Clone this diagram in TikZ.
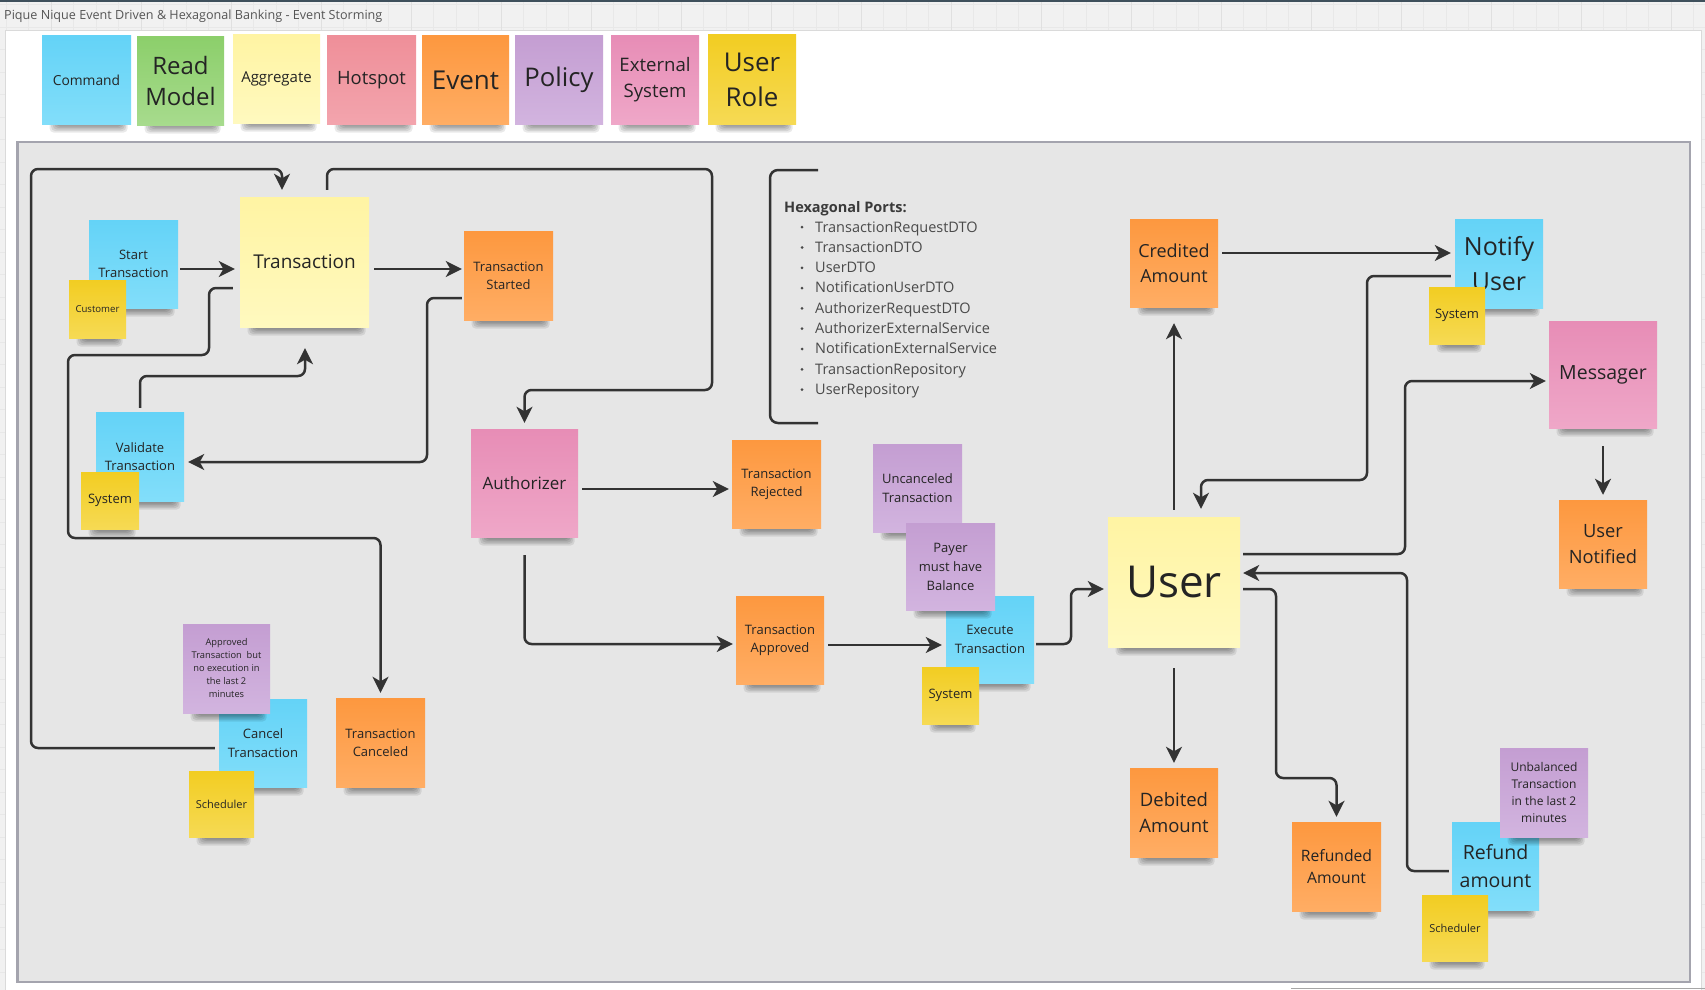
\documentclass[tikz,border=0pt]{standalone}
\usepackage{fontspec}
\setmainfont{Open Sans}
\usetikzlibrary{arrows.meta,calc}

\newcommand\fsz[2]{\fontsize{#1pt}{#2pt}\selectfont}

% board colours
\definecolor{ink}{HTML}{242424}
\definecolor{wire}{HTML}{333333}
\definecolor{canvasbg}{HTML}{F1F1F1}
\definecolor{gridminor}{HTML}{E8E8E8}
\definecolor{gridmajor}{HTML}{E0E0E0}
\definecolor{topbar}{HTML}{3F505C}
\definecolor{panelline}{HTML}{DADADA}
\definecolor{framefill}{HTML}{E6E6E6}
\definecolor{frameline}{HTML}{A4A4AE}
\definecolor{titlegray}{HTML}{555555}
\definecolor{portgray}{HTML}{4A4A4A}
% sticky note colours (top / bottom of the gradient)
\definecolor{cmdA}{HTML}{64D3F7}\definecolor{cmdB}{HTML}{82DEFA}
\definecolor{readA}{HTML}{8CCF6B}\definecolor{readB}{HTML}{A7DB8D}
\definecolor{aggA}{HTML}{FFF4A3}\definecolor{aggB}{HTML}{FFF9BF}
\definecolor{hotA}{HTML}{EF8F99}\definecolor{hotB}{HTML}{F3A4AD}
\definecolor{evA}{HTML}{FD983F}\definecolor{evB}{HTML}{FFAD64}
\definecolor{polA}{HTML}{C49ED2}\definecolor{polB}{HTML}{D2B4DF}
\definecolor{extA}{HTML}{E78DB6}\definecolor{extB}{HTML}{EFA7C8}
\definecolor{roleA}{HTML}{F2CD22}\definecolor{roleB}{HTML}{F6DA54}

\tikzset{
  sticky/.style={rectangle, inner sep=2pt, align=center, text=ink},
  note/.style 2 args={sticky, top color=#1, bottom color=#2},
  cmdnote/.style={note={cmdA}{cmdB}},
  readnote/.style={note={readA}{readB}},
  aggnote/.style={note={aggA}{aggB}},
  hotnote/.style={note={hotA}{hotB}},
  evnote/.style={note={evA}{evB}},
  polnote/.style={note={polA}{polB}},
  extnote/.style={note={extA}{extB}},
  rolenote/.style={note={roleA}{roleB}},
  sz/.style 2 args={minimum width=#1pt, minimum height=#2pt},
  shadowlayer/.style={fill=black, opacity=0.085, rounded corners=4pt},
  conn/.style={draw=wire, line width=2.5pt, rounded corners=7pt,
    -{Stealth[length=16pt, width=16pt, inset=4.5pt]}},
  plainwire/.style={draw=wire, line width=2.5pt, rounded corners=8pt},
  portitem/.style={anchor=base west, inner sep=0pt, text=portgray, font=\fsz{14.5}{18}},
}

% a sticky note with its soft shadow under the lower edge
% #1 style, #2 name, #3 x, #4 y (centre), #5 width, #6 height, #7 text
\newcommand\stickynote[7]{%
  \foreach \k in {0,...,4} {
    \fill[shadowlayer] ({#3-#5/2+14-\k*1.6},{#4+#6/2-4})
      rectangle ({#3+#5/2-9+\k*1.4},{#4+#6/2+2.5+\k*1.5});
  }
  \node[#1, sz={#5}{#6}] (#2) at (#3,#4) {#7};
}

\begin{document}
\begin{tikzpicture}[x=1pt, y=-1pt]
\useasboundingbox (0,0) rectangle (1705,990);

% canvas with its grid
\fill[canvasbg] (0,0) rectangle (1705,990);
\foreach \gx in {6,28.5,...,1705} \draw[gridminor, line width=0.8pt] (\gx,0) -- (\gx,990);
\foreach \gy in {4.5,27,...,990} \draw[gridminor, line width=0.8pt] (0,\gy) -- (1705,\gy);
\foreach \gx in {51,141,...,1705} \draw[gridmajor, line width=1pt] (\gx,0) -- (\gx,990);
\fill[topbar] (0,0) rectangle (1705,2.2);

% white board panel
\filldraw[fill=white, draw=panelline, line width=0.8pt] (5,30) rectangle (1701,1000);
\draw[black!35, line width=1.2pt] (1291,988.5) -- (1705,988.5);

% board title
\node[anchor=base west, inner sep=0pt, text=titlegray, font=\fsz{12.6}{15}] (title) at (4,20)
  {Pique Nique Event Driven \& Hexagonal Banking - Event Storming};

% legend
\stickynote{cmdnote, font=\fsz{13.8}{19}}{lgCmd}{86.5}{80}{89}{88}{Command}
\stickynote{readnote, font=\fsz{24}{31}}{lgRead}{180.5}{81}{87}{88}{Read\\Model}
\stickynote{aggnote, font=\fsz{15}{21}}{lgAgg}{276.5}{79}{87}{88}{Aggregate}
\stickynote{hotnote, font=\fsz{18.4}{25}}{lgHot}{371.5}{80}{89}{88}{Hotspot}
\stickynote{evnote, font=\fsz{26}{34}}{lgEv}{465.5}{80}{87}{88}{Event}
\stickynote{polnote, font=\fsz{25.7}{34}}{lgPol}{559}{80}{88}{88}{Policy}
\stickynote{extnote, font=\fsz{18.6}{26}}{lgExt}{655}{80}{88}{88}{External\\System}
\stickynote{rolenote, font=\fsz{25.9}{35}}{lgRole}{752}{79.5}{88}{89}{User\\Role}

% event storming frame
\filldraw[fill=framefill, draw=frameline, line width=2.2pt] (17.5,142) rectangle (1690,982);

% transaction flow
\stickynote{aggnote, font=\fsz{19}{26}}{txn}{304.5}{262}{129}{130}{Transaction}
\stickynote{cmdnote, font=\fsz{13}{18.3}}{startTx}{133.5}{264}{89}{88}{Start\\Transaction}
\stickynote{rolenote, font=\fsz{9.6}{13}}{customer}{97.5}{309}{57}{58}{Customer}
\stickynote{evnote, font=\fsz{13}{18.3}}{txStarted}{508.5}{275.5}{89}{89}{Transaction\\Started}
\stickynote{cmdnote, font=\fsz{13}{18.3}}{validate}{140}{456.5}{88}{89}{Validate\\Transaction}
\stickynote{rolenote, font=\fsz{13}{18}}{sysValidate}{110}{500.5}{58}{57}{System}
\stickynote{extnote, font=\fsz{17}{23}}{auth}{524.5}{483}{107}{108}{Authorizer}
\stickynote{evnote, font=\fsz{13}{18.3}}{txRejected}{776.5}{484}{89}{88}{Transaction\\Rejected}
\stickynote{evnote, font=\fsz{13}{18.3}}{txApproved}{780}{640}{88}{88}{Transaction\\Approved}
\stickynote{cmdnote, font=\fsz{13}{18.3}}{execute}{990}{639.5}{88}{87}{Execute\\Transaction}
\stickynote{polnote, font=\fsz{13}{18.3}}{uncanceled}{917.5}{488}{89}{88}{Uncanceled\\Transaction}
\stickynote{polnote, font=\fsz{13}{19}}{payer}{950.5}{566.5}{89}{87}{Payer\\must have\\Balance}
\stickynote{rolenote, font=\fsz{13}{18}}{sysExecute}{950.5}{695.5}{57}{57}{System}

% cancellation
\stickynote{cmdnote, font=\fsz{13}{18.3}}{cancel}{263}{743}{88}{88}{Cancel\\Transaction}
\stickynote{polnote, font=\fsz{9.3}{13}}{approvedNote}{226.5}{668.5}{87}{89}
  {Approved\\Transaction~ but\\no execution in\\the last 2\\minutes}
\stickynote{rolenote, font=\fsz{11}{15}}{schedCancel}{221.5}{804}{65}{66}{Scheduler}
\stickynote{evnote, font=\fsz{13}{18.3}}{txCanceled}{380.5}{742.5}{89}{89}{Transaction\\Canceled}

% user aggregate and its events
\stickynote{aggnote, font=\fsz{44}{50}}{user}{1174}{582}{132}{130}{User}
\stickynote{evnote, font=\fsz{18}{25}}{credited}{1174}{263}{88}{88}{Credited\\Amount}
\stickynote{cmdnote, font=\fsz{25}{35}}{notify}{1499}{263.5}{88}{89}{Notify\\User}
\stickynote{rolenote, font=\fsz{13}{18}}{sysNotify}{1457}{315.5}{56}{57}{System}
\stickynote{extnote, font=\fsz{19.5}{27}}{messager}{1603}{374.5}{108}{107}{Messager}
\stickynote{evnote, font=\fsz{18.3}{26}}{userNotified}{1603}{544}{88}{88}{User\\Notified}
\stickynote{evnote, font=\fsz{18.5}{26}}{debited}{1174}{812.5}{88}{89}{Debited\\Amount}
\stickynote{evnote, font=\fsz{15.7}{22}}{refunded}{1336.5}{866.5}{89}{89}{Refunded\\Amount}
\stickynote{cmdnote, font=\fsz{19.5}{27.5}}{refund}{1495.5}{866}{87}{88}{Refund\\amount}
\stickynote{polnote, font=\fsz{12}{17}}{unbalanced}{1544}{792.5}{88}{89}
  {Unbalanced\\Transaction\\in the last 2\\minutes}
\stickynote{rolenote, font=\fsz{11}{15}}{schedRefund}{1455}{928}{66}{66}{Scheduler}

% hexagonal ports list
\draw[plainwire] (818,170) -- (770,170) -- (770,423) -- (818,423);
\node[anchor=base west, inner sep=0pt, text=ink!90, font=\fsz{14.5}{18}\bfseries] (portsTitle) at (784,212) {Hexagonal Ports:};
\foreach \p [count=\i from 0] in {TransactionRequestDTO, TransactionDTO, UserDTO,
    NotificationUserDTO, AuthorizerRequestDTO, AuthorizerExternalService,
    NotificationExternalService, TransactionRepository, UserRepository} {
  \fill[portgray] (802,{232+20.3*\i-4.8}) circle (1.5);
  \node[portitem] (port\i) at (815,{232+20.3*\i}) {\p};
}

% connectors
\draw[conn] ($(cancel.west)+(-4,5)$) -- (31,748) -- (31,169) -- (282,169) -- ($(txn.north)+(-22.5,-7)$);
\draw[conn] ($(txn.north)+(22.5,-7)$) -- (327,169) -- (712,169) -- (712,390) -- (524.5,390) -- ($(auth.north)+(0,-6)$);
\draw[conn] ($(startTx.east)+(2,5)$) -- ($(txn.west)+(-5,7)$);
\draw[conn] ($(txn.east)+(5,7)$) -- ($(txStarted.west)+(-2,-6.5)$);
\draw[conn] ($(txStarted.west)+(-2,22.5)$) -- (427,298) -- (427,462) -- ($(validate.east)+(4,5.5)$);
\draw[conn] ($(validate.north)+(0,-4)$) -- (140,376) -- (305,376) -- ($(txn.south)+(0.5,21)$);
\draw[conn] ($(txn.west)+(-7,26)$) -- (209,288) -- (209,355) -- (68,355) -- (68,538) -- (380.5,538) -- ($(txCanceled.north)+(0,-5)$);
\draw[conn] ($(auth.east)+(4,6)$) -- ($(txRejected.west)+(-3,5)$);
\draw[conn] ($(auth.south)+(0,18)$) -- (524.5,644) -- ($(txApproved.west)+(-3,4)$);
\draw[conn] ($(txApproved.east)+(4,5)$) -- ($(execute.west)+(-4,5.5)$);
\draw[conn] ($(execute.east)+(2,4.5)$) -- (1071,644) -- (1071,589) -- ($(user.west)+(-4,7)$);
\draw[conn] ($(user.north)+(0,-7)$) -- ($(credited.south)+(0,16)$);
\draw[conn] ($(credited.east)+(4,-10)$) -- ($(notify.west)+(-4,-10.5)$);
\draw[conn] ($(notify.west)+(-4,12.5)$) -- (1367,276) -- (1367,480) -- (1201,480) -- ($(user.north)+(27,-8)$);
\draw[conn] ($(user.east)+(3,-28)$) -- (1405,554) -- (1405,381) -- ($(messager.west)+(-3,6.5)$);
\draw[conn] ($(messager.south)+(0,18)$) -- ($(userNotified.north)+(0,-5)$);
\draw[conn] ($(user.south)+(0,21)$) -- ($(debited.north)+(0,-5)$);
\draw[conn] ($(user.east)+(3,7)$) -- (1276,589) -- (1276,778) -- (1336.5,778) -- ($(refunded.north)+(0,-5)$);
\draw[conn] ($(refund.west)+(-3,5)$) -- (1407,871) -- (1407,573) -- ($(user.east)+(3,-9)$);
\end{tikzpicture}
\end{document}
